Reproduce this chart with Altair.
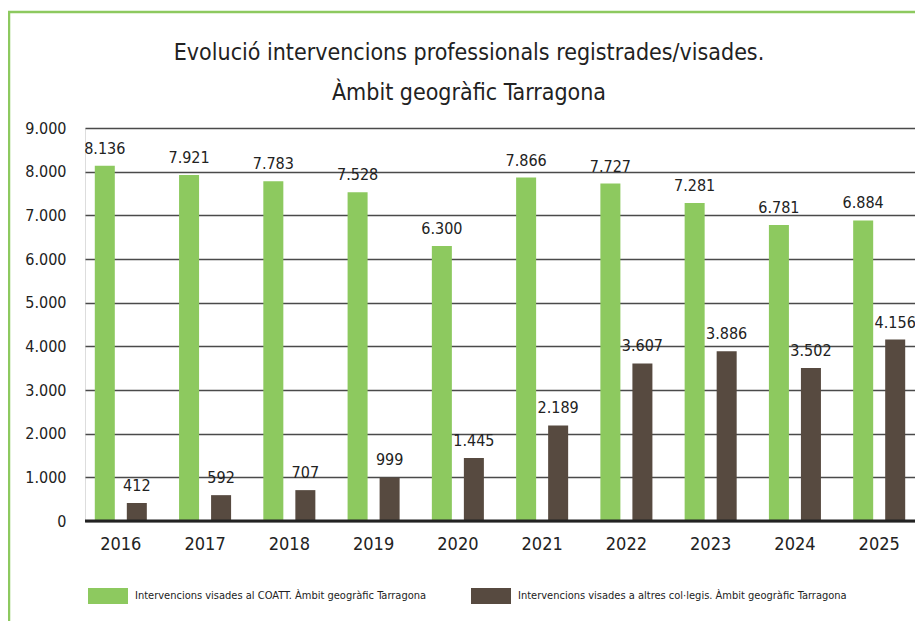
import altair as alt
import pandas as pd

years = ["2016", "2017", "2018", "2019", "2020", "2021", "2022", "2023", "2024", "2025"]
coatt = [8136, 7921, 7783, 7528, 6300, 7866, 7727, 7281, 6781, 6884]
altres = [412, 592, 707, 999, 1445, 2189, 3607, 3886, 3502, 4156]
series = [
    "Intervencions visades al COATT. Àmbit geogràfic Tarragona",
    "Intervencions visades a altres col·legis. Àmbit geogràfic Tarragona",
]
colors = ["#8dc95f", "#574a40"]

rows = []
for y, a, b in zip(years, coatt, altres):
    rows.append({"year": y, "serie": series[0], "value": a})
    rows.append({"year": y, "serie": series[1], "value": b})
df = pd.DataFrame(rows)
df["label"] = df["value"].map(lambda v: f"{v:,}".replace(",", "."))

FONT = "DejaVu Sans Condensed, Liberation Sans Narrow, sans-serif"
TXT = "#222222"

x_enc = alt.X("year:N", title=None,
              scale=alt.Scale(paddingInner=0.24, paddingOuter=0.045),
              axis=alt.Axis(labelAngle=0, domain=False, ticks=False, labelPadding=14,
                            labelFontSize=18, labelFont=FONT, labelFontWeight="normal",
                            labelColor=TXT))
off_enc = alt.XOffset("serie:N", sort=series,
                      scale=alt.Scale(paddingInner=0.375, paddingOuter=0.1875))

base = alt.Chart(df)

bars = base.mark_bar().encode(
    x=x_enc,
    xOffset=off_enc,
    y=alt.Y("value:Q", title=None,
            scale=alt.Scale(domain=[0, 9000], nice=False),
            axis=alt.Axis(values=list(range(0, 9001, 1000)), domain=False, ticks=False,
                          labelPadding=19, labelFontSize=16, labelFont=FONT,
                          labelFontWeight="normal", labelColor=TXT,
                          gridColor="#4a4a4a", gridWidth=1.5,
                          labelExpr="replace(format(datum.value, ','), ',', '.')")),
    color=alt.Color("serie:N", sort=series,
                    scale=alt.Scale(domain=series, range=colors),
                    legend=alt.Legend(title=None, orient="none", legendX=3, legendY=448,
                                      direction="horizontal", columns=2, padding=0,
                                      columnPadding=44,
                                      symbolType="M-1,-0.4H1V0.4H-1Z", symbolSize=1600,
                                      symbolStrokeWidth=0, symbolOpacity=1,
                                      labelFont=FONT, labelFontSize=11, labelColor=TXT,
                                      labelOffset=7, labelLimit=0)),
)

labels = base.mark_text(baseline="bottom", dy=-9, font=FONT, fontSize=16,
                        fontWeight="normal", color=TXT).encode(
    x=alt.X("year:N"),
    xOffset=alt.XOffset("serie:N", sort=series),
    y=alt.Y("value:Q"),
    text="label:N",
)

zero = alt.Chart(pd.DataFrame({"z": [0]})).mark_rule(color="#222222", strokeWidth=3).encode(
    y=alt.Y("z:Q")
)

border_top = alt.Chart(pd.DataFrame({"z": [0]})).mark_rule(color="#8dc95f", strokeWidth=2.5).encode(
    x=alt.value(-77), x2=alt.value(830), y=alt.value(-116)
)
border_left = alt.Chart(pd.DataFrame({"z": [0]})).mark_rule(color="#8dc95f", strokeWidth=2.5).encode(
    x=alt.value(-76), y=alt.value(-117), y2=alt.value(500)
)

chart = alt.layer(bars, labels, zero, border_top, border_left).properties(
    width=830,
    height=393,
    autosize=alt.AutoSizeParams(type="none"),
    padding={"left": 77, "top": 120, "right": 0, "bottom": 100},
    title=alt.TitleParams(
        ["Evolució intervencions professionals registrades/visades.", "Àmbit geogràfic Tarragona"],
        font=FONT, fontSize=23, fontWeight="normal", color=TXT, lineHeight=40,
        anchor="middle", frame="group", dx=-31, offset=-95,
    ),
).configure_view(stroke=None).configure(background="white")

chart.save("out.html", embed_options={"renderer": "svg", "actions": False})
